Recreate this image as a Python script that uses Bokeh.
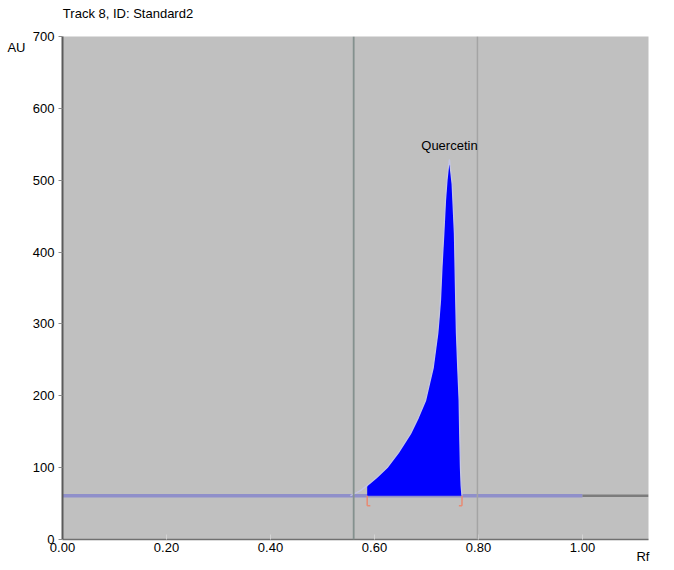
from bokeh.plotting import figure
from bokeh.models import Range1d, FixedTicker, Label, Span, NumeralTickFormatter, LinearAxis
from bokeh.embed import file_html
from bokeh.resources import INLINE

# ---- data ----
title_text = "Track 8, ID: Standard2"
y_title = "AU"
x_title = "Rf"
y_ticks = [0, 100, 200, 300, 400, 500, 600, 700]
x_ticks = [0.0, 0.2, 0.4, 0.6, 0.8, 1.0]
x_max = 1.127
y_max = 700
baseline_level = 61
baseline_x = [0.0, 1.0]
tail_x = [1.0, 1.127]
marker_lines = [0.56, 0.798]
peak_name = "Quercetin"
peak_x = [0.5538, 0.5596, 0.5731, 0.5860, 0.6038, 0.6244, 0.6462, 0.6692, 0.6846,
          0.6981, 0.7058, 0.7129, 0.7173, 0.7217, 0.7244, 0.7269, 0.7298, 0.7333,
          0.7365, 0.7394, 0.7423, 0.7442, 0.7494, 0.7538, 0.7563, 0.7577, 0.7602,
          0.7629, 0.7640, 0.7654, 0.7667, 0.7683]
peak_y = [61, 63, 68, 75, 86, 100, 121, 147, 170,
          193, 217, 239, 263, 287, 310, 333, 380, 426,
          472, 500, 520, 529, 495, 426, 333, 287, 239,
          193, 147, 100, 75, 61]
peak_start = 0.5860
peak_end = 0.7683
peak_apex_x = 0.7442
peak_apex_y = 529

FONT = "Liberation Sans"

p = figure(width=666, height=570, x_range=Range1d(0, x_max), y_range=Range1d(0, y_max),
           output_backend="svg", toolbar_location=None,
           min_border_left=62, min_border_right=18, min_border_top=36, min_border_bottom=31)
p.background_fill_color = "#c0c0c0"
p.border_fill_color = "white"
p.outline_line_color = None
p.xgrid.visible = False
p.ygrid.visible = False
p.title.visible = False

# axes
p.yaxis.ticker = FixedTicker(ticks=y_ticks)
p.xaxis.ticker = FixedTicker(ticks=x_ticks)
p.xaxis.formatter = NumeralTickFormatter(format="0.00")
for ax in (p.xaxis, p.yaxis):
    ax.major_label_text_font = FONT
    ax.major_label_text_font_size = "13px"
    ax.major_label_text_color = "black"
    ax.minor_tick_line_color = None
p.yaxis.axis_line_color = "#5a5a5a"
p.yaxis.axis_line_width = 2
p.yaxis.major_tick_line_color = "#8a8a8a"
p.yaxis.major_tick_out = 4
p.yaxis.major_tick_in = 0
p.yaxis.major_label_standoff = 4
p.xaxis.axis_line_color = "#707070"
p.xaxis.axis_line_width = 1.5
p.xaxis.major_tick_line_color = "#d4d4d4"
p.xaxis.major_tick_in = 5
p.xaxis.major_tick_out = 0
p.xaxis.major_label_standoff = 3


def text_axis(pos, text, standoff):
    return LinearAxis(ticker=FixedTicker(ticks=[pos]), major_label_overrides={pos: text},
                      axis_line_color=None, major_tick_line_color=None, minor_tick_line_color=None,
                      major_tick_in=0, major_tick_out=0, major_label_standoff=standoff,
                      major_label_text_font=FONT, major_label_text_font_size="13px",
                      major_label_text_color="black")


# chart title and axis titles as single-label helper axes
title_pos = 0.126
au_pos = 685
rf_pos = 1.1163
p.add_layout(text_axis(title_pos, title_text, 16), "above")
p.add_layout(text_axis(au_pos, y_title, 4), "left")
p.add_layout(text_axis(rf_pos, x_title, -6), "below")

# vertical marker lines
p.add_layout(Span(location=marker_lines[0], dimension="height", line_color="#84918e", line_width=1.8))
p.add_layout(Span(location=marker_lines[1], dimension="height", line_color="#a4a4a4", line_width=1.5))

# baseline
p.line(baseline_x, [baseline_level] * len(baseline_x), line_color="#8f8fca", line_width=3.5)
p.line(tail_x, [baseline_level] * len(tail_x), line_color="#7c7c7c", line_width=2.5)

# filled peak area
fill_x = [x for x in peak_x if x >= peak_start]
fill_y = [y for x, y in zip(peak_x, peak_y) if x >= peak_start]
p.patch(fill_x + [peak_end, peak_start], fill_y + [baseline_level, baseline_level],
        fill_color="#0000ff", line_color=None)
# signal edge
p.line(peak_x, peak_y, line_color="#c4c6e4", line_width=1.3)

# peak start/end markers
mk_depth = 14
p.segment(x0=[peak_start, peak_end], y0=[baseline_level] * 2,
          x1=[peak_start, peak_end], y1=[baseline_level - mk_depth] * 2,
          line_color="#e88a72", line_width=1.5)
p.segment(x0=[peak_start, peak_end], y0=[baseline_level - mk_depth] * 2,
          x1=[peak_start + 0.006, peak_end - 0.006], y1=[baseline_level - mk_depth] * 2,
          line_color="#e88a72", line_width=1.5)

# peak label
p.add_layout(Label(x=peak_apex_x, y=peak_apex_y + 30, text=peak_name, text_align="center",
                   text_baseline="top", text_font=FONT, text_font_size="13px", text_color="black"))

open("out.html", "w").write(file_html(p, INLINE))
